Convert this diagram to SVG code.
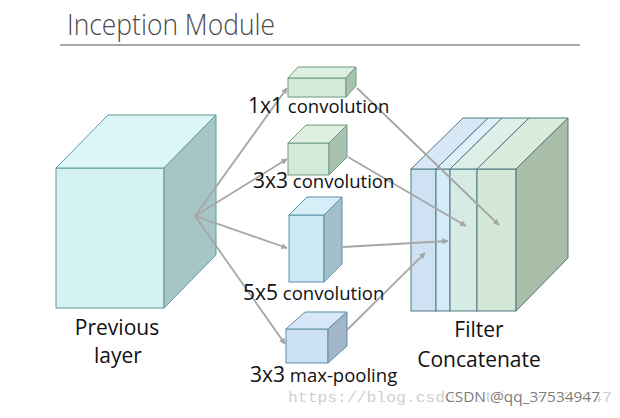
<svg xmlns="http://www.w3.org/2000/svg" width="620" height="418" viewBox="0 0 620 418">
<defs>
<style>
.title{font-family:"Open Sans","Liberation Sans",sans-serif;font-weight:300;font-size:29px;fill:#4a4a4a}
.lbl{font-family:"Open Sans","Liberation Sans",sans-serif;fill:#111}
.big{font-size:21px}
.sm{font-size:18.5px}
.edge{stroke:#a6a6a6;stroke-width:1.8;fill:none;marker-end:url(#ah)}
.prev{stroke:#5f9c97;stroke-width:1}
.grn{stroke:#6f9a7e;stroke-width:1}
.blu{stroke:#5c8fa8;stroke-width:1}
.cat{stroke:#4e7a80;stroke-width:1}
</style>
<marker id="ah" viewBox="0 0 10 10" refX="9" refY="5" markerWidth="3.5" markerHeight="3.5" orient="auto">
<path d="M0,0 L10,5 L0,10 z" fill="#a6a6a6"/>
</marker>
</defs>
<rect width="620" height="418" fill="#ffffff"/>
<text class="title" x="67" y="35" textLength="208" lengthAdjust="spacingAndGlyphs">Inception Module</text>
<line x1="60" y1="45" x2="580" y2="45" stroke="#8c8c8c" stroke-width="1.3"/>

<g id="previous-layer">
<rect class="prev" x="56" y="168" width="108" height="140" fill="#d4f2f4"/>
<polygon class="prev" points="56,168 108,115 216,115 164,168" fill="#dcf6f7"/>
<polygon class="prev" points="164,168 216,115 216,255 164,308" fill="#a6c6c5"/>
<text class="lbl big" x="117" y="335" text-anchor="middle">Previous</text>
<text class="lbl big" x="118" y="363" text-anchor="middle">layer</text>
</g>

<g id="conv1x1">
<rect class="grn" x="288" y="78" width="58" height="19" fill="#d3e9d9"/>
<polygon class="grn" points="288,78 298,67 356,67 346,78" fill="#dcefe1"/>
<polygon class="grn" points="346,78 356,67 356,86 346,97" fill="#a8c2b0"/>
</g>

<g id="conv3x3">
<rect class="grn" x="288" y="143" width="41" height="32" fill="#d3e9d9"/>
<polygon class="grn" points="288,143 306,125 347,125 329,143" fill="#dcefe1"/>
<polygon class="grn" points="329,143 347,125 347,157 329,175" fill="#a8c2b0"/>
</g>

<g id="conv5x5">
<rect class="blu" x="289" y="215" width="35" height="67" fill="#cde9f6"/>
<polygon class="blu" points="289,215 307,197 342,197 324,215" fill="#d6eef8"/>
<polygon class="blu" points="324,215 342,197 342,264 324,282" fill="#a3bfcc"/>
</g>

<g id="maxpool">
<rect class="blu" x="286" y="329" width="42" height="34" fill="#cde1f4"/>
<polygon class="blu" points="286,329 305,312 347,312 328,329" fill="#d6e7f7"/>
<polygon class="blu" points="328,329 347,312 347,346 328,363" fill="#a3b5c9"/>
</g>

<g id="filter-concat">
<rect class="cat" x="411" y="169" width="25" height="142" fill="#cfe2f3"/>
<rect class="cat" x="436" y="169" width="14" height="142" fill="#d3ecf8"/>
<rect class="cat" x="450" y="169" width="27" height="142" fill="#d6ebe3"/>
<rect class="cat" x="477" y="169" width="39" height="142" fill="#d3e8d6"/>
<polygon class="cat" points="411,169 463,118 488,118 436,169" fill="#d8e8f6"/>
<polygon class="cat" points="436,169 488,118 502,118 450,169" fill="#dcf1fa"/>
<polygon class="cat" points="450,169 502,118 529,118 477,169" fill="#deefe8"/>
<polygon class="cat" points="477,169 529,118 568,118 516,169" fill="#dbecdd"/>
<polygon class="cat" points="516,169 568,118 568,258 516,311" fill="#a8bea9"/>
<text class="lbl big" x="479" y="337" text-anchor="middle">Filter</text>
<text class="lbl big" x="479" y="367" text-anchor="middle">Concatenate</text>
</g>

<g id="connectors">
<line class="edge" x1="195" y1="216" x2="287" y2="88"/>
<line class="edge" x1="195" y1="216" x2="287" y2="159"/>
<line class="edge" x1="195" y1="216" x2="287" y2="248"/>
<line class="edge" x1="195" y1="216" x2="285" y2="344"/>
<line class="edge" x1="357" y1="88" x2="499" y2="225"/>
<line class="edge" x1="348" y1="157" x2="466" y2="226"/>
<line class="edge" x1="343" y1="247" x2="448" y2="241"/>
<line class="edge" x1="347" y1="330" x2="425" y2="253"/>
</g>

<g id="labels">
<text class="lbl" x="248" y="113"><tspan class="big">1x1</tspan><tspan class="sm"> convolution</tspan></text>
<text class="lbl" x="253" y="188"><tspan class="big">3x3</tspan><tspan class="sm"> convolution</tspan></text>
<text class="lbl" x="243" y="300"><tspan class="big">5x5</tspan><tspan class="sm"> convolution</tspan></text>
<text class="lbl" x="250" y="382"><tspan class="big">3x3</tspan><tspan class="sm"> max-pooling</tspan></text>
</g>

<g id="watermark">
<text x="288" y="402" font-family="'Liberation Mono',monospace" font-size="14" fill="#cfcfcf" textLength="324" lengthAdjust="spacingAndGlyphs">https://blog.csdn.net/qq_37534947</text>
<text x="445" y="402" font-family="'Open Sans','Liberation Sans',sans-serif" font-size="14" fill="#7c7c7c" stroke="#ffffff" stroke-width="3" stroke-linejoin="round" paint-order="stroke" textLength="155" lengthAdjust="spacingAndGlyphs">CSDN @qq_37534947</text>
</g>
</svg>
